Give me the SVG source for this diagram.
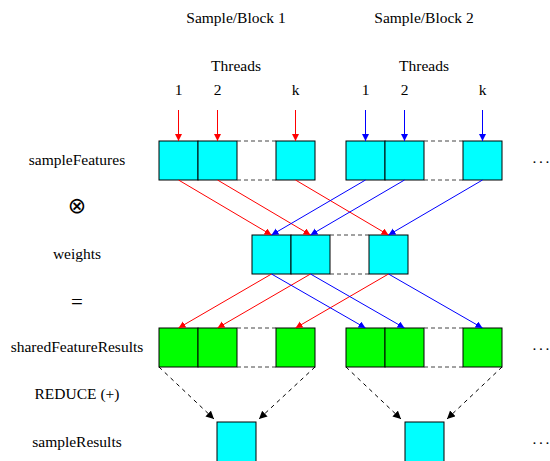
<svg xmlns="http://www.w3.org/2000/svg" width="550" height="461" viewBox="0 0 550 461">
<style>
.t{font-family:"Liberation Serif","DejaVu Serif",serif;font-size:15.5px;fill:#000;text-anchor:middle}
.e{font-family:"Liberation Serif","DejaVu Serif",serif;font-size:15.5px;fill:#000}
.c{fill:#00ffff;stroke:#000;stroke-width:1}
.g{fill:#00ff00;stroke:#000;stroke-width:1}
.d{fill:none;stroke:#444;stroke-width:1;stroke-dasharray:4,3}
.r{stroke:#ff0000;stroke-width:1;fill:none;marker-end:url(#ar)}
.b{stroke:#0000ff;stroke-width:1;fill:none;marker-end:url(#ab)}
.k{stroke:#000;stroke-width:1;fill:none;stroke-dasharray:4,4;marker-end:url(#ak)}
</style>
<defs>
<marker id="ar" markerUnits="userSpaceOnUse" markerWidth="8" markerHeight="8" refX="7" refY="3.5" orient="auto"><path d="M0,0 L7,3.5 L0,7 z" fill="#ff0000"/></marker>
<marker id="ab" markerUnits="userSpaceOnUse" markerWidth="8" markerHeight="8" refX="7" refY="3.5" orient="auto"><path d="M0,0 L7,3.5 L0,7 z" fill="#0000ff"/></marker>
<marker id="ak" markerUnits="userSpaceOnUse" markerWidth="9" markerHeight="9" refX="8" refY="4" orient="auto"><path d="M0,0 L8,4 L0,8 z" fill="#000"/></marker>
</defs>
<g id="labels">
<text class="t" x="236" y="23">Sample/Block 1</text>
<text class="t" x="424" y="23">Sample/Block 2</text>
<text class="t" x="236" y="71">Threads</text>
<text class="t" x="424" y="71">Threads</text>
<text class="t" x="178.5" y="95">1</text><text class="t" x="217.5" y="95">2</text><text class="t" x="295.5" y="95">k</text>
<text class="t" x="365.5" y="95">1</text><text class="t" x="404.5" y="95">2</text><text class="t" x="482.5" y="95">k</text>
<text class="t" x="77" y="165">sampleFeatures</text>
<text x="77" y="213" font-family="DejaVu Sans, sans-serif" font-size="22" text-anchor="middle">⊗</text>
<text class="t" x="77" y="259">weights</text>
<text class="t" x="77" y="309" style="font-size:21px">=</text>
<text class="t" x="77" y="352">sharedFeatureResults</text>
<text class="t" x="77" y="399">REDUCE (+)</text>
<text class="t" x="77" y="447">sampleResults</text>
<text class="e" x="532.5 539 545.5" y="163">...</text>
<text class="e" x="532.5 539 545.5" y="350">...</text>
<text class="e" x="532.5 539 545.5" y="444">...</text>
</g>
<g id="sampleFeatures1">
<rect class="c" x="159" y="141" width="39" height="39"/><rect class="c" x="198" y="141" width="39" height="39"/>
<path class="d" d="M237,141 H276 M237,180 H276"/>
<rect class="c" x="276" y="141" width="39" height="39"/>
</g>
<g id="sampleFeatures2">
<rect class="c" x="346" y="141" width="39" height="39"/><rect class="c" x="385" y="141" width="39" height="39"/>
<path class="d" d="M424,141 H463 M424,180 H463"/>
<rect class="c" x="463" y="141" width="39" height="39"/>
</g>
<g id="weights">
<rect class="c" x="252" y="235" width="39" height="39"/><rect class="c" x="291" y="235" width="39" height="39"/>
<path class="d" d="M330,235 H369 M330,274 H369"/>
<rect class="c" x="369" y="235" width="39" height="39"/>
</g>
<g id="shared1">
<rect class="g" x="159" y="328" width="39" height="39"/><rect class="g" x="198" y="328" width="39" height="39"/>
<path class="d" d="M237,328 H276 M237,367 H276"/>
<rect class="g" x="276" y="328" width="39" height="39"/>
</g>
<g id="shared2">
<rect class="g" x="346" y="328" width="39" height="39"/><rect class="g" x="385" y="328" width="39" height="39"/>
<path class="d" d="M424,328 H463 M424,367 H463"/>
<rect class="g" x="463" y="328" width="39" height="39"/>
</g>
<g id="sampleResult1"><rect class="c" x="217" y="422" width="39" height="45"/></g>
<g id="sampleResult2"><rect class="c" x="405" y="422" width="39" height="45"/></g>
<g id="connectors">
<path class="r" d="M178.5,110 V141"/>
<path class="r" d="M217.5,110 V141"/>
<path class="r" d="M295.5,110 V141"/>
<path class="b" d="M365.5,110 V141"/>
<path class="b" d="M404.5,110 V141"/>
<path class="b" d="M482.5,110 V141"/>
<path class="r" d="M178.5,180 L271.5,235"/>
<path class="r" d="M217.5,180 L310.5,235"/>
<path class="r" d="M295.5,180 L388.5,235"/>
<path class="b" d="M365.5,180 L271.5,235"/>
<path class="b" d="M404.5,180 L310.5,235"/>
<path class="b" d="M482.5,180 L388.5,235"/>
<path class="r" d="M271.5,274 L178.5,328"/>
<path class="r" d="M310.5,274 L217.5,328"/>
<path class="r" d="M388.5,274 L295.5,328"/>
<path class="b" d="M271.5,274 L365.5,328"/>
<path class="b" d="M310.5,274 L404.5,328"/>
<path class="b" d="M388.5,274 L482.5,328"/>
<path class="k" d="M159,367 L214,419"/>
<path class="k" d="M315,367 L259,419"/>
<path class="k" d="M346,367 L401,419"/>
<path class="k" d="M502,367 L447,419"/>
</g>
</svg>
